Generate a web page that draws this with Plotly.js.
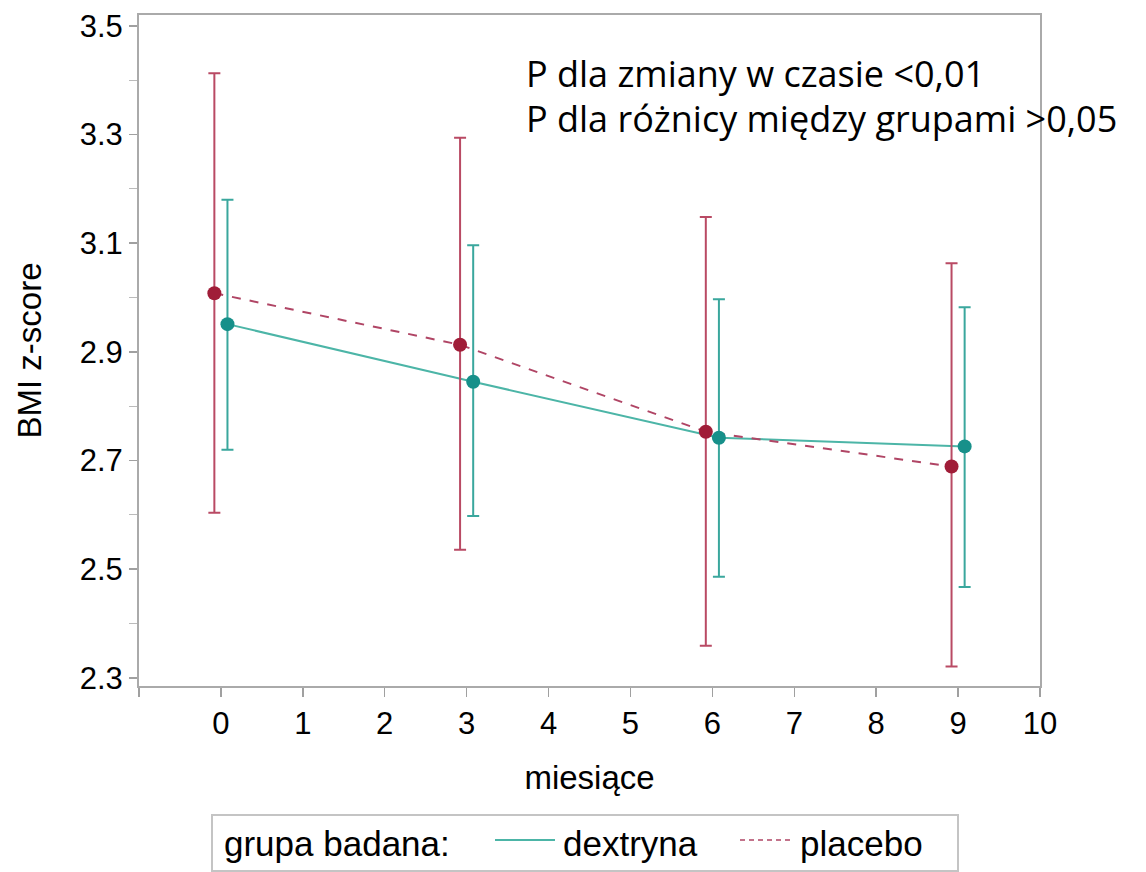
<!DOCTYPE html>
<html>
<head>
<meta charset="utf-8">
<script src="https://cdn.plot.ly/plotly-3.0.1.min.js"></script>
<style>html,body{margin:0;padding:0;background:#fff}#chart{width:1146px;height:872px}</style>
</head>
<body>
<div id="chart"></div>
<script>
// Data
const months = [0, 3, 6, 9];
const dextrynaMean  = [2.951, 2.845, 2.742, 2.726];
const dextrynaUpper = [3.180, 3.096, 2.997, 2.982];
const dextrynaLower = [2.720, 2.598, 2.486, 2.467];
const placeboMean   = [3.008, 2.913, 2.753, 2.689];
const placeboUpper  = [3.413, 3.294, 3.148, 3.063];
const placeboLower  = [2.604, 2.536, 2.359, 2.321];
const seriesNames = ['dextryna', 'placebo'];
const legendTitle = 'grupa badana:';
const xTicks = [-1, 0, 1, 2, 3, 4, 5, 6, 7, 8, 9, 10];
const xTickText = ['', '0', '1', '2', '3', '4', '5', '6', '7', '8', '9', '10'];
const yTicks = [2.3, 2.5, 2.7, 2.9, 3.1, 3.3, 3.5];
const noteLines = ['P dla zmiany w czasie <0,01', 'P dla różnicy między grupami >0,05'];

const dOff = 0.08, pOff = -0.08;
const xd = months.map(m => m + dOff);
const xp = months.map(m => m + pOff);

const teal = '#17908a', tealBar = '#3aa79d', tealLine = '#4cb5a7';
const red = '#a01d38', redBar = '#b94a64', redLine = '#b04565';

const traces = [
  {x: xd, y: dextrynaMean, mode: 'lines', name: seriesNames[0], showlegend: false,
   line: {color: tealLine, width: 2}, hoverinfo: 'skip'},
  {x: xp, y: placeboMean, mode: 'lines', name: seriesNames[1], showlegend: false,
   line: {color: redLine, width: 2, dash: 'dash'}, hoverinfo: 'skip'},
  {x: xp, y: placeboMean, mode: 'markers', showlegend: false,
   marker: {color: red, size: 14},
   error_y: {type: 'data', symmetric: false,
     array: placeboUpper.map((u, i) => u - placeboMean[i]),
     arrayminus: placeboLower.map((l, i) => placeboMean[i] - l),
     color: redBar, thickness: 2, width: 6}},
  {x: xd, y: dextrynaMean, mode: 'markers', showlegend: false,
   marker: {color: teal, size: 14},
   error_y: {type: 'data', symmetric: false,
     array: dextrynaUpper.map((u, i) => u - dextrynaMean[i]),
     arrayminus: dextrynaLower.map((l, i) => dextrynaMean[i] - l),
     color: tealBar, thickness: 2, width: 6}}
];

const sans = 'Liberation Sans, Arial, sans-serif';
const tickFont = {family: sans, size: 31, color: '#000'};
const titleFont = {family: sans, size: 33, color: '#000'};
const legFont = {family: sans, size: 35, color: '#000'};
const noteFont = {family: 'Open Sans, Noto Sans, sans-serif', size: 36, color: '#000'};

// plot area in pixels: left 139, right 1040, top 15, bottom 686
const L = 139, R = 1040, T = 15, B = 686;
const px = v => (v - L) / (R - L);
const py = v => (B - v) / (B - T);

const layout = {
  width: 1146, height: 872,
  margin: {l: L, r: 1146 - R, t: T, b: 872 - B},
  paper_bgcolor: '#fff', plot_bgcolor: '#fff',
  showlegend: false,
  xaxis: {
    range: [-1, 10], tickvals: xTicks, ticktext: xTickText,
    ticks: 'outside', ticklen: 9, tickcolor: '#a0a0a0', tickwidth: 1.5,
    showline: true, linecolor: '#aaa', linewidth: 2, mirror: true,
    showgrid: false, zeroline: false,
    tickfont: tickFont,
    title: {text: 'miesiące', font: titleFont, standoff: 26}
  },
  yaxis: {
    range: [2.285, 3.52], tickvals: yTicks, ticktext: yTicks.map(v => v.toFixed(1)),
    ticks: 'outside', ticklen: 8, tickcolor: '#a0a0a0', tickwidth: 1.5,
    minor: {dtick: 0.1, tick0: 2.3, ticks: 'outside', ticklen: 8, tickcolor: '#bbb', tickwidth: 1},
    showline: true, linecolor: '#aaa', linewidth: 2, mirror: true,
    showgrid: false, zeroline: false,
    tickfont: tickFont,
    title: {text: 'BMI z-score', font: titleFont, standoff: 28}
  },
  shapes: [
    // legend frame
    {type: 'rect', xref: 'paper', yref: 'paper', x0: px(212), x1: px(958), y0: py(871), y1: py(815),
     line: {color: '#c4c4c4', width: 2}, fillcolor: '#fff'},
    // legend samples
    {type: 'line', xref: 'paper', yref: 'paper', x0: px(495), x1: px(555), y0: py(840), y1: py(840),
     line: {color: tealLine, width: 2}},
    {type: 'line', xref: 'paper', yref: 'paper', x0: px(740), x1: px(790), y0: py(840), y1: py(840),
     line: {color: redLine, width: 1.5, dash: '5px,4px'}}
  ],
  annotations: [
    {xref: 'paper', yref: 'paper', x: px(222), y: py(843), xanchor: 'left', yanchor: 'middle',
     text: legendTitle, showarrow: false, font: legFont},
    {xref: 'paper', yref: 'paper', x: px(561), y: py(843), xanchor: 'left', yanchor: 'middle',
     text: seriesNames[0], showarrow: false, font: legFont},
    {xref: 'paper', yref: 'paper', x: px(798), y: py(843), xanchor: 'left', yanchor: 'middle',
     text: seriesNames[1], showarrow: false, font: legFont},
    {xref: 'paper', yref: 'paper', x: px(524), y: py(73), xanchor: 'left', yanchor: 'middle',
     text: noteLines[0], showarrow: false, align: 'left', font: noteFont},
    {xref: 'paper', yref: 'paper', x: px(524), y: py(118), xanchor: 'left', yanchor: 'middle',
     text: noteLines[1], showarrow: false, align: 'left', font: noteFont}
  ]
};

Plotly.newPlot('chart', traces, layout, {displayModeBar: false, staticPlot: true});
</script>
</body>
</html>
